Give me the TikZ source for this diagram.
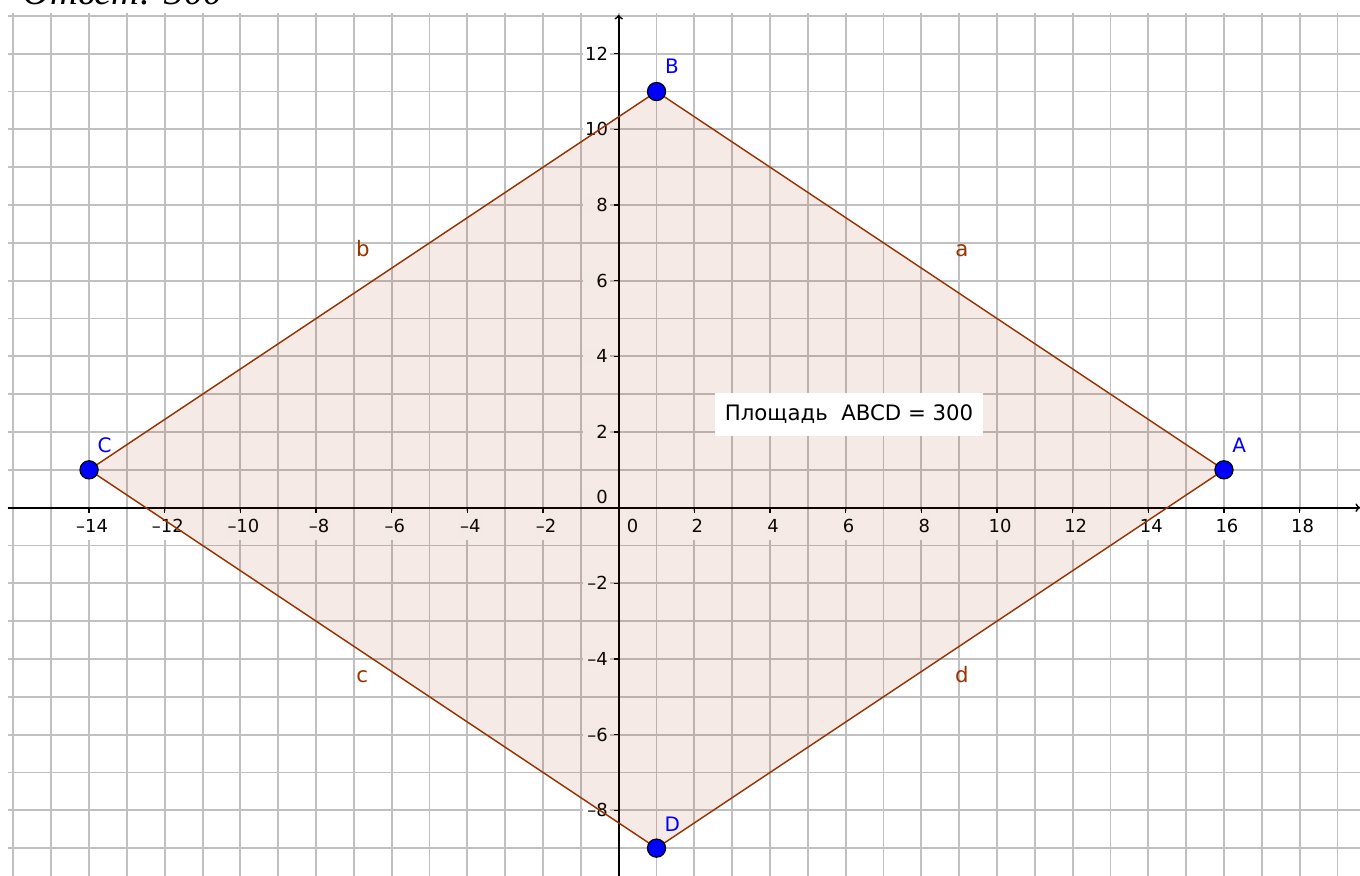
\documentclass[tikz,border=0pt]{standalone}
\usepackage{fontspec}
\setmainfont{DejaVu Sans}
\newfontfamily\answerfont{Liberation Serif}
\usepackage{tikz}
\usepackage{xcolor}
\usetikzlibrary{arrows,positioning,calc}
\definecolor{polycolor}{RGB}{153,51,0}
\definecolor{pointcolor}{RGB}{0,0,255}
\definecolor{gridcolor}{RGB}{192,192,192}

\begin{document}
\begin{tikzpicture}[
    gridline/.style={gridcolor, line width=1.4pt},
    axis/.style={->, >=to, black, line width=1.3pt},
    tick/.style={black, line width=1.1pt},
    xlab/.style={fill=white, inner xsep=1pt, inner ysep=0pt, minimum height=0.76cm, font=\fontsize{13.5}{16}\selectfont},
    ylab/.style={fill=white, anchor=east, inner xsep=0.05cm, inner ysep=0pt, minimum height=0.42cm, text width=0.6cm, align=right, font=\fontsize{13.5}{16}\selectfont},
    pt/.style={circle, draw=black, line width=0.9pt, fill=pointcolor, minimum size=0.48cm, inner sep=0pt},
    ptlab/.style={text=pointcolor, anchor=base, inner sep=0pt, font=\fontsize{15}{18}\selectfont},
    sidelab/.style={text=polycolor, anchor=base, inner sep=0pt, font=\fontsize{16}{19}\selectfont},
    area/.style={fill=white, minimum width=7.08cm, minimum height=1.14cm, inner sep=0pt, font=\fontsize{16}{19}\selectfont}
]

% Frame
\useasboundingbox (-16.355,-9.723) rectangle (19.596,13.42);

% ============ Grid ============
\foreach \x in {-16,...,19}
    \draw[gridline] (\x,-9.8) -- (\x,13.08);
\foreach \y in {-9,...,13}
    \draw[gridline] (-16.15,\y) -- (19.7,\y);

% ============ Axes ============
\coordinate (xstart) at (-16.15,0);
\coordinate (xend) at (19.6,0);
\coordinate (ystart) at (0,-9.8);
\coordinate (yend) at (0,13.03);
\draw[axis] (xstart) -- (xend);
\draw[axis] (ystart) -- (yend);

% x labels
\foreach \x in {-14,-12,...,-2,2,4,...,18} {
    \node[xlab] (xl\x) at (\x+0.08,-0.475) {\ifnum\x<0 –\number\numexpr-\x\relax\else\x\fi};
    \draw[tick] (\x,0) -- (\x,-0.13);
}
\node[xlab] (xl0) at (0.37,-0.475) {0};

% y labels
\foreach \y in {-8,-6,...,-2,2,4,...,12} {
    \node[ylab] (yl\y) at (-0.23,\y) {\ifnum\y<0 –\number\numexpr-\y\relax\else\y\fi};
    \draw[tick] (0,\y) -- (-0.13,\y);
}
\node[ylab] (yl0) at (-0.23,0.29) {0};

% ============ Quadrilateral ============
\coordinate (pA) at (16,1);
\coordinate (pB) at (1,11);
\coordinate (pC) at (-14,1);
\coordinate (pD) at (1,-9);
\fill[polycolor, fill opacity=0.1] (pA) -- (pB) -- (pC) -- (pD) -- cycle;
\draw[polycolor, line width=1.1pt] (pA) -- (pB) -- (pC) -- (pD) -- cycle;

% side names
\node[sidelab] (sa) at (9.07,6.64) {a};
\node[sidelab] (sb) at (-6.76,6.64) {b};
\node[sidelab] (sc) at (-6.78,-4.62) {c};
\node[sidelab] (sd) at (9.07,-4.62) {d};

% points
\node[pt] (A) at (pA) {};
\node[pt] (B) at (pB) {};
\node[pt] (C) at (pC) {};
\node[pt] (D) at (pD) {};
\node[ptlab] (labA) at (16.4,1.45) {A};
\node[ptlab] (labB) at (1.41,11.47) {B};
\node[ptlab] (labC) at (-13.59,1.45) {C};
\node[ptlab] (labD) at (1.42,-8.55) {D};

% Area text
\node[area] (area) at (6.09,2.47) {Площадь\ \ ABCD = 300};

% Answer
\node[anchor=base west, inner sep=0pt, font=\answerfont\itshape\fontsize{29}{33}\selectfont] (answer) at (-15.77,13.29) {Ответ: 300};

\end{tikzpicture}
\end{document}
